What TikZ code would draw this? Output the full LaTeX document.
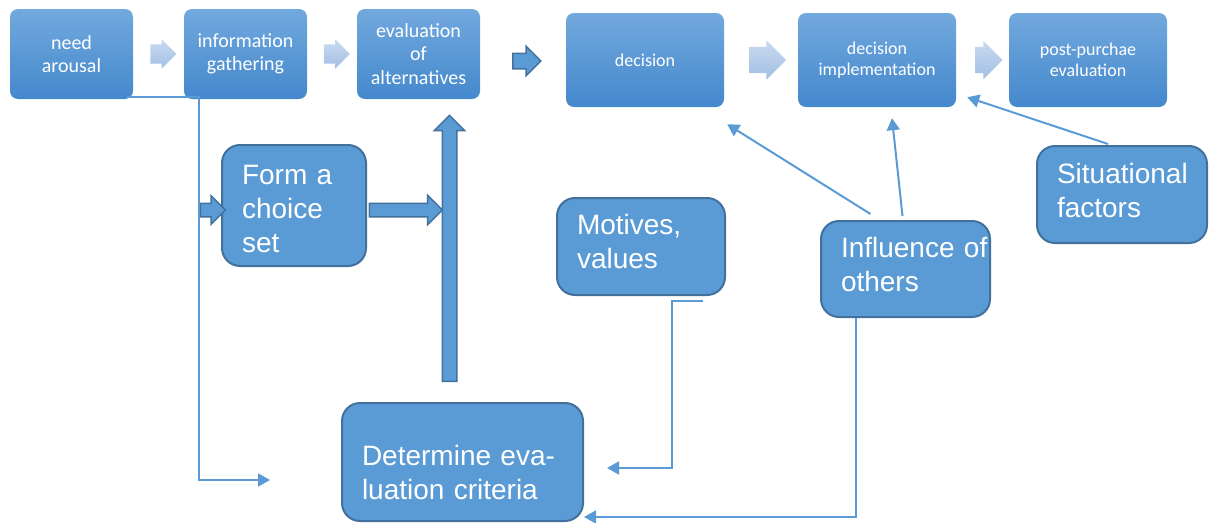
\documentclass[tikz,border=0pt]{standalone}
\usepackage{fontspec}
\setmainfont{Liberation Sans}
\newfontfamily\stagefont{Carlito}
\usepackage{tikz}
\usetikzlibrary{shapes.arrows}
\usetikzlibrary{calc}
\usetikzlibrary{arrows.meta}
\definecolor{stagetop}{RGB}{114,169,222}
\definecolor{stagebot}{RGB}{68,136,204}
\definecolor{factorfill}{RGB}{91,155,213}
\definecolor{factorline}{RGB}{65,113,156}
\definecolor{chevtop}{RGB}{201,218,240}
\definecolor{chevbot}{RGB}{163,191,228}
\newcommand\dropby[1]{\rule{0pt}{#1}}
\newcommand\liftby[1]{\par\vspace*{#1}}
\tikzset{stage/.style={rounded corners=8pt, top color=stagetop, bottom color=stagebot, text=white, align=center, inner sep=0pt, minimum width=123pt, minimum height=90pt, font=\stagefont\fontsize{20}{23.5}\selectfont}}
\tikzset{stagewide/.style={stage, minimum width=158pt, minimum height=94pt, font=\stagefont\fontsize{18}{21}\selectfont}}
\tikzset{factor/.style={rounded corners=18pt, fill=factorfill, draw=factorline, line width=2pt, text=white, align=left, inner xsep=20pt, inner ysep=0pt, font=\fontsize{28}{34}\selectfont}}
\tikzset{chevron/.style={single arrow, inner xsep=0pt, top color=chevtop, bottom color=chevbot}}
\tikzset{blockarrow/.style={single arrow, inner xsep=0pt, fill=factorfill, draw=factorline, line width=1.5pt}}
\tikzset{link/.style={draw=factorfill, line width=2pt, -{Triangle[length=12pt,width=13pt]}}}

\begin{document}
\begin{tikzpicture}[x=1pt,y=-1pt]
  \useasboundingbox (0,0) rectangle (1215,522);
  \foreach \x/\name/\lab in {
    71.5/need/{need\\arousal},
    245.5/info/{information\\gathering},
    418.5/eval/{evaluation\\of\\alternatives}%
  } {
    \node[stage] (\name) at (\x,54) {\lab};
  }
  \foreach \x/\name/\lab in {
    645/decision/{decision},
    877/impl/{decision\\implementation},
    1088/post/{post-purchae\\evaluation}%
  } {
    \node[stagewide] (\name) at (\x,60) {\lab};
  }
  \foreach \a/\b/\len/\shaft/\headext/\name in {
    need/info/26/9.5/5/chone,
    info/eval/26/9.5/5/chtwo,
    decision/impl/37/13/6.5/chfour,
    impl/post/27/13/6/chfive%
  } {
    \node[chevron, minimum height=\len pt, inner ysep=\shaft pt, single arrow head extend=\headext pt] (\name) at ($(\a.east)!.5!(\b.west)$) {};
  }
  \node[blockarrow, minimum height=28pt, inner ysep=7pt, single arrow head extend=7pt] (go) at ($(eval.east)!.5!(decision.west)+(0,4)$) {};

  \foreach \x/\y/\w/\h/\name/\lab in {
    294/205.5/104/121/form/{\dropby{27pt}Form a\\choice\\set},
    641/246.5/128/97/motives/{Motives,\\values\liftby{10pt}},
    905.5/269/129/96/influ/{\mbox{Influence of}\\others\liftby{10pt}},
    1122/194.5/130/97/situ/{Situational\\factors\liftby{8pt}},
    462.5/462/201/118/crit/{\dropby{41pt}Determine eva-\\luation criteria}%
  } {
    \node[factor, text width=\w pt, minimum height=\h pt] (\name) at (\x,\y) {\lab};
  }

  \node[blockarrow, minimum height=25pt, inner ysep=6pt, single arrow head extend=7.5pt] (toform) at (209.5,210) {};
  \node[blockarrow, minimum height=73pt, inner ysep=6pt, single arrow head extend=8pt] (fromform) at (402.5,210) {};
  \node[blockarrow, rotate=90, minimum height=266pt, inner ysep=6.5pt, single arrow head extend=8pt] (up) at (449.5,252) {};

  \coordinate (critin) at (270,480);
  \coordinate (critr) at (607,468);
  \draw[link] ([shift={(-6,-2)}]need.south east) -- ++(72,0) |- (critin);
  \draw[link] ([shift={(-23,5)}]motives.south east) -- ++(-31,0) |- (critr);
  \draw[link] ([xshift=-49.5pt]influ.south) |- ([shift={(0,-5)}]crit.south east);
  \draw[link] ([shift={(-35,-6)}]influ.north) -- ([shift={(3,17)}]decision.south east);
  \draw[link] ([shift={(-3,-4)}]influ.north) -- ([shift={(15,11)}]impl.south);
  \draw[link] ([shift={(-14,-1)}]situ.north) -- ([shift={(11,-10)}]impl.south east);
\end{tikzpicture}
\end{document}
